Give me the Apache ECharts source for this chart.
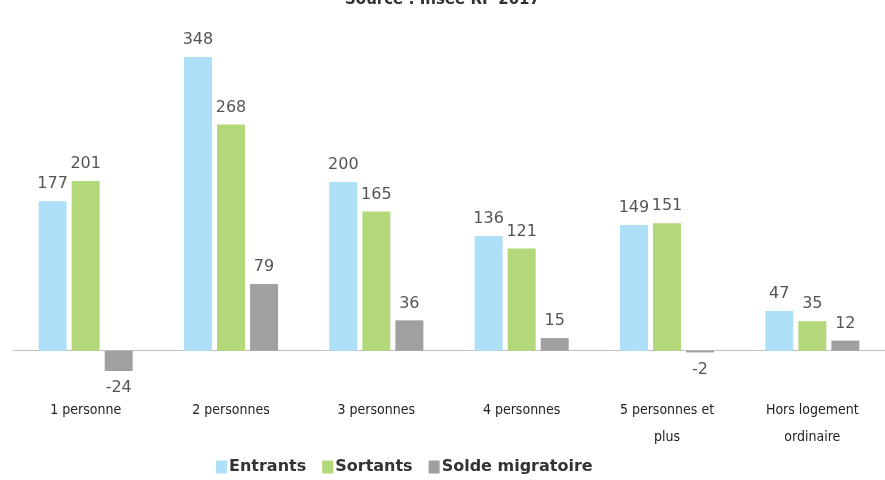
<!DOCTYPE html>
<html><head><meta charset="utf-8">
<script src="https://cdn.jsdelivr.net/npm/echarts@6/dist/echarts.min.js"></script>
<style>html,body{margin:0;padding:0;background:#fff}#c{width:885px;height:480px}</style>
</head><body><div id="c"></div>
<script>
const categories = ['1 personne', '2 personnes', '3 personnes', '4 personnes', '5 personnes et\nplus', 'Hors logement\nordinaire'];
const entrants = [177, 348, 200, 136, 149, 47];
const sortants = [201, 268, 165, 121, 151, 35];
const solde = [-24, 79, 36, 15, -2, 12];
const seriesNames = ['Entrants', 'Sortants', 'Solde migratoire'];
const sourceText = 'Source : Insee RP 2017';

const labelStyle = {show: true, position: 'top', color: '#555', fontSize: 16, fontFamily: 'DejaVu Sans', distance: 9};
function withNeg(arr) {
  return arr.map(v => v < 0 ? {value: v, label: {position: 'bottom', distance: 9}} : v);
}
const chart = echarts.init(document.getElementById('c'));
chart.setOption({
  animation: false,
  title: {text: sourceText, left: 'center', top: -12, textStyle: {fontSize: 15, fontWeight: 'bold', color: '#333', fontFamily: 'DejaVu Sans'}},
  grid: {left: 13, right: 0, top: 57, bottom: 109},
  legend: {bottom: 0, left: 211, itemWidth: 11, itemHeight: 13, itemGap: 16, icon: 'rect',
    textStyle: {fontSize: 16, fontWeight: 'bold', color: '#333', fontFamily: 'DejaVu Sans', padding: [0, 0, 0, -3]}, data: seriesNames},
  xAxis: {type: 'category', data: categories,
    axisLine: {lineStyle: {color: '#bfbfbf'}}, axisTick: {show: false},
    axisLabel: {interval: 0, color: '#222', fontSize: 14, fontFamily: "'DejaVu Sans Condensed', 'Liberation Sans'", lineHeight: 27, margin: 26}},
  yAxis: {type: 'value', min: -24, max: 348, show: false, splitLine: {show: false}},
  series: [
    {name: seriesNames[0], type: 'bar', data: withNeg(entrants), barWidth: 28, barGap: '18%', itemStyle: {color: '#aee0f7'}, label: labelStyle},
    {name: seriesNames[1], type: 'bar', data: withNeg(sortants), barWidth: 28, barGap: '18%', itemStyle: {color: '#b3d879'}, label: labelStyle},
    {name: seriesNames[2], type: 'bar', data: withNeg(solde), barWidth: 28, barGap: '18%', itemStyle: {color: '#a0a0a0'}, label: labelStyle}
  ]
});
</script></body></html>
